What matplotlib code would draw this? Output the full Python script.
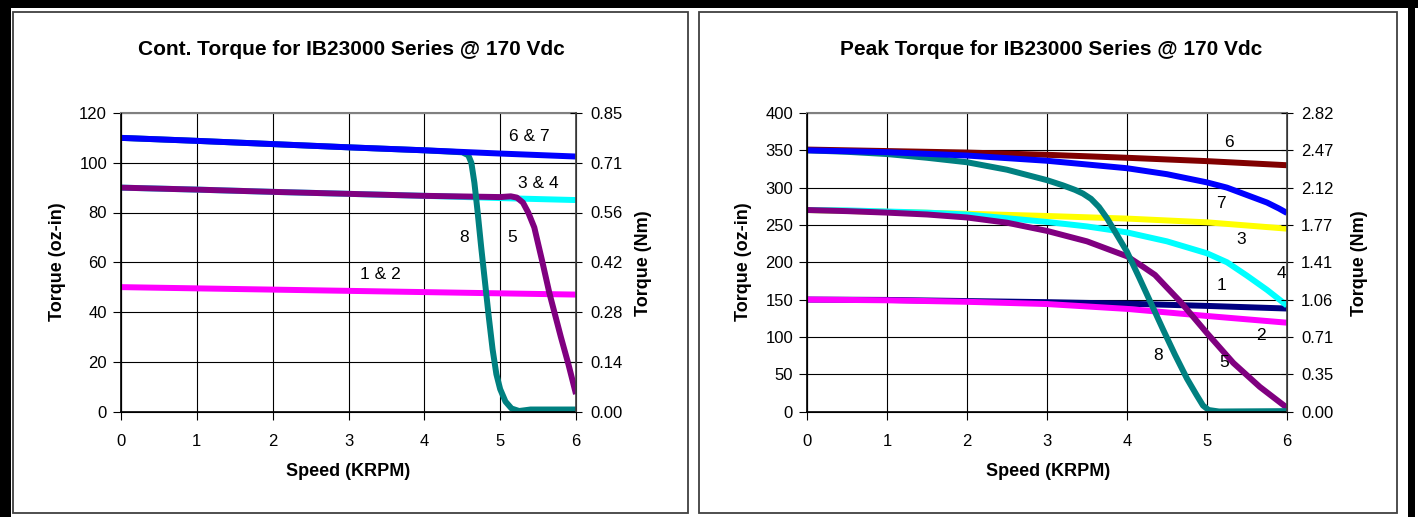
import matplotlib
matplotlib.use('Agg')
import matplotlib.pyplot as plt
from matplotlib.patches import Rectangle

plt.rcParams['font.family'] = ['Liberation Sans', 'DejaVu Sans']

# ---- Continuous torque chart data (speed in KRPM, torque in oz-in) ----
cont_x_12 = [0, 1, 2, 3, 4, 5, 6]
cont_y_12 = [50, 49.5, 49, 48.5, 48, 47.5, 47]
cont_x_34 = [0, 1, 2, 3, 4, 5, 6]
cont_y_34 = [90, 89.2, 88.3, 87.5, 86.7, 85.8, 85]
cont_x_5 = [0, 1, 2, 3, 4, 5, 5.14, 5.22, 5.3, 5.37, 5.45, 5.55, 5.65, 5.8, 5.9, 6]
cont_y_5 = [90, 89.2, 88.3, 87.5, 86.7, 86.2, 86.5, 86, 84, 80, 74, 61, 47.5, 30, 19, 7]
cont_x_67 = [0, 1, 2, 3, 4, 5, 6]
cont_y_67 = [110, 108.8, 107.5, 106.2, 105, 103.7, 102.5]
cont_x_8 = [0, 1, 2, 3, 4, 4.5, 4.58, 4.62, 4.66, 4.7, 4.75, 4.8, 4.85, 4.9,
            4.95, 5.0, 5.07, 5.15, 5.25, 5.4, 6]
cont_y_8 = [110, 108.8, 107.5, 106.2, 105, 104.2, 103, 100, 92, 81, 66, 52, 38, 25,
            15, 9, 4, 1.2, 0.2, 0.8, 0.8]

cont_labels = ['1 & 2', '3 & 4', '5', '6 & 7', '8']
cont_label_x = [3.42, 5.5, 5.16, 5.38, 4.52]
cont_label_y = [55, 91.8, 70, 110.5, 70]

cont_ticks = [0, 20, 40, 60, 80, 100, 120]
cont_nm = ['0.00', '0.14', '0.28', '0.42', '0.56', '0.71', '0.85']

# ---- Peak torque chart data ----
peak_x_1 = [0, 1, 2, 3, 4, 5, 6]
peak_y_1 = [150, 149.5, 148, 146.5, 144.5, 141.5, 138]
peak_x_2 = [0, 1, 2, 3, 4, 5, 6]
peak_y_2 = [150, 149, 147, 144, 137.5, 128, 119]
peak_x_3 = [0, 1, 2, 3, 4, 5, 6]
peak_y_3 = [270, 267.5, 265, 262, 258.5, 253.5, 245]
peak_x_4 = [0, 0.5, 1, 1.5, 2, 2.5, 3, 3.5, 4, 4.5, 5, 5.25, 5.5, 5.75, 6]
peak_y_4 = [270, 269.5, 268, 266.5, 264, 259, 254, 248, 240, 228, 212, 200, 182, 163, 142]
peak_x_5 = [0, 0.5, 1, 1.5, 2, 2.5, 3, 3.5, 4, 4.2, 4.35, 4.5, 4.66, 5, 5.33, 5.66, 6]
peak_y_5 = [270, 268.5, 266.5, 264, 260, 253, 242, 228, 208, 194, 183, 166, 148, 105, 65, 33, 5]
peak_x_6 = [0, 1, 2, 3, 4, 5, 6]
peak_y_6 = [351, 349, 347, 344, 340, 335.5, 330]
peak_x_7 = [0, 1, 2, 3, 4, 4.5, 5, 5.25, 5.5, 5.75, 5.9, 6]
peak_y_7 = [350, 347.5, 343, 336, 326, 318, 307, 300, 290, 280, 272, 266]
peak_x_8 = [0, 0.5, 1, 1.5, 2, 2.5, 3, 3.2, 3.35, 3.45, 3.55, 3.65, 3.75, 3.9, 4.0,
            4.15, 4.3, 4.45, 4.6, 4.75, 4.87, 4.95, 5.02, 5.15, 6]
peak_y_8 = [350, 348, 345, 340, 334, 324, 310, 303, 297, 292, 285, 274, 259, 232, 214,
            180, 145, 110, 76, 44, 22, 8, 2, 0, 0.5]

peak_labels = ['1', '2', '3', '4', '5', '6', '7', '8']
peak_label_x = [5.18, 5.68, 5.43, 5.93, 5.21, 5.27, 5.18, 4.39]
peak_label_y = [169, 102, 230, 185, 65, 361, 279, 75]

peak_ticks = [0, 50, 100, 150, 200, 250, 300, 350, 400]
peak_nm = ['0.00', '0.35', '0.71', '1.06', '1.41', '1.77', '2.12', '2.47', '2.82']

speed_ticks = [0, 1, 2, 3, 4, 5, 6]

W, H = 1418, 517


def fx(px):
    return px / W


def fy(py):
    return 1 - py / H


fig = plt.figure(figsize=(W / 100, H / 100), dpi=100)
fig.patch.set_facecolor('white')

# black outer border and panel frames
for (x0, y0, x1, y1) in [(0, 0, 1418, 8), (0, 0, 11, 517), (1408, 0, 1415, 517)]:
    fig.add_artist(Rectangle((fx(x0), fy(y1)), fx(x1 - x0), (y1 - y0) / H,
                             transform=fig.transFigure, color='black', lw=0))
for (x0, y0, x1, y1) in [(13, 12, 688, 513), (699, 12, 1397, 513)]:
    fig.add_artist(Rectangle((fx(x0), fy(y1)), fx(x1 - x0), (y1 - y0) / H,
                             transform=fig.transFigure, fill=False,
                             edgecolor='#404040', lw=1.3))


def setup(ax, yticks, nm_labels, ymax):
    ax.set_xlim(0, 6)
    ax.set_ylim(0, ymax)
    ax.set_xticks(speed_ticks)
    ax.set_yticks(yticks)
    ax.grid(True, color='black', lw=0.8)
    ax.set_axisbelow(True)
    ax.tick_params(axis='both', direction='out', length=6, width=0.8,
                   labelsize=12, pad=4)
    ax.tick_params(axis='x', pad=10)
    ax.spines['top'].set_color('#808080')
    ax.spines['top'].set_linewidth(1.5)
    for s in ['left', 'bottom']:
        ax.spines[s].set_linewidth(1.2)
    ax2 = ax.twinx()
    ax2.set_ylim(0, ymax)
    ax2.set_yticks(yticks)
    ax2.set_yticklabels(nm_labels)
    ax2.tick_params(axis='y', direction='inout', length=8, width=0.8,
                    labelsize=12, pad=6)
    ax2.spines['right'].set_color('#404040')
    ax2.spines['right'].set_linewidth(1.2)
    ax2.spines['top'].set_visible(False)
    return ax2


LW = 4.3

# ---------- left chart ----------
ax = fig.add_axes([fx(121), fy(411.5), fx(576 - 121), 298.5 / H])
setup(ax, cont_ticks, cont_nm, 120)
ax.plot(cont_x_12, cont_y_12, color='#FF00FF', lw=LW, solid_capstyle='butt', zorder=2)
ax.plot(cont_x_34, cont_y_34, color='#00FFFF', lw=LW, solid_capstyle='butt', zorder=2)
ax.plot(cont_x_5, cont_y_5, color='#800080', lw=LW, solid_capstyle='butt', zorder=2.1)
ax.plot(cont_x_8, cont_y_8, color='#008080', lw=LW, solid_capstyle='butt', zorder=2.2)
ax.plot(cont_x_67, cont_y_67, color='#0000FF', lw=LW, solid_capstyle='butt', zorder=2.3)
for lab, lx, ly in zip(cont_labels, cont_label_x, cont_label_y):
    ax.text(lx, ly, lab, fontsize=12.5, ha='center', va='center')

fig.text(fx(351), fy(50), 'Cont. Torque for IB23000 Series @ 170 Vdc',
         fontsize=15, fontweight='bold', ha='center', va='center')
fig.text(fx(348), fy(471), 'Speed (KRPM)', fontsize=13, fontweight='bold',
         ha='center', va='center')
fig.text(fx(57), fy(262), 'Torque (oz-in)', fontsize=13, fontweight='bold',
         ha='center', va='center', rotation=90)
fig.text(fx(644), fy(263), 'Torque (Nm)', fontsize=13, fontweight='bold',
         ha='center', va='center', rotation=90)

# ---------- right chart ----------
ax = fig.add_axes([fx(807), fy(411.5), fx(1287 - 807), 298.5 / H])
setup(ax, peak_ticks, peak_nm, 400)
ax.plot(peak_x_1, peak_y_1, color='#000080', lw=LW, solid_capstyle='butt', zorder=2)
ax.plot(peak_x_2, peak_y_2, color='#FF00FF', lw=LW, solid_capstyle='butt', zorder=2)
ax.plot(peak_x_3, peak_y_3, color='#FFFF00', lw=LW, solid_capstyle='butt', zorder=2)
ax.plot(peak_x_4, peak_y_4, color='#00FFFF', lw=LW, solid_capstyle='butt', zorder=2)
ax.plot(peak_x_5, peak_y_5, color='#800080', lw=LW, solid_capstyle='butt', zorder=2)
ax.plot(peak_x_8, peak_y_8, color='#008080', lw=LW, solid_capstyle='butt', zorder=2.1)
ax.plot(peak_x_6, peak_y_6, color='#800000', lw=LW, solid_capstyle='butt', zorder=2.2)
ax.plot(peak_x_7, peak_y_7, color='#0000FF', lw=LW, solid_capstyle='butt', zorder=2.3)
for lab, lx, ly in zip(peak_labels, peak_label_x, peak_label_y):
    ax.text(lx, ly, lab, fontsize=12.5, ha='center', va='center')

fig.text(fx(1051), fy(50), 'Peak Torque for IB23000 Series @ 170 Vdc',
         fontsize=15, fontweight='bold', ha='center', va='center')
fig.text(fx(1048), fy(471), 'Speed (KRPM)', fontsize=13, fontweight='bold',
         ha='center', va='center')
fig.text(fx(743), fy(262), 'Torque (oz-in)', fontsize=13, fontweight='bold',
         ha='center', va='center', rotation=90)
fig.text(fx(1359), fy(263), 'Torque (Nm)', fontsize=13, fontweight='bold',
         ha='center', va='center', rotation=90)

fig.savefig('out.png', dpi=100)
